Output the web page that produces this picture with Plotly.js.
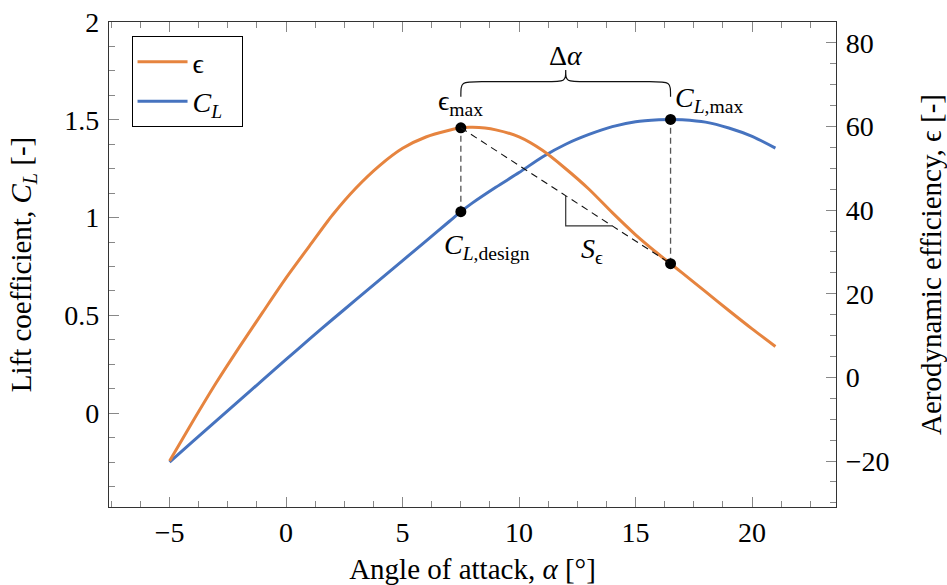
<!DOCTYPE html>
<html>
<head>
<meta charset="utf-8">
<script src="https://cdn.plot.ly/plotly-3.0.1.min.js"></script>
<style>html,body{margin:0;padding:0;background:#fff;}#chart{width:947px;height:585px;}</style>
</head>
<body>
<div id="chart"></div>
<script>
// Angle of attack (deg)
const alpha = [-5,-4,-3,-2,-1,0,1,2,3,4,5,6,7,7.5,8,9,10,11,12,13,14,15,16,16.5,17,18,19,20,21];
// Aerodynamic efficiency epsilon (right axis)
const eps = [-20,-10.5,-1.3,7.3,15.6,23.8,31.4,38.9,45.3,50.6,54.8,57.5,59.1,59.7,59.8,59.2,57.5,54.3,49.9,45.0,39.4,34.1,29.4,27.2,25.0,20.5,16.0,11.6,7.4];
// Lift coefficient CL (left axis)
const cl = [-0.25,-0.145,-0.04,0.065,0.17,0.275,0.378,0.48,0.58,0.68,0.78,0.88,0.98,1.03,1.075,1.155,1.23,1.31,1.375,1.425,1.465,1.49,1.5,1.502,1.5,1.488,1.458,1.415,1.355];
// Marked operating points
const alphaDesign = 7.5;   // epsilon max
const alphaStall = 16.5;   // CL max
const slopeTriangle = [12, 14];

const iD = alpha.indexOf(alphaDesign);
const iS = alpha.indexOf(alphaStall);
const epsMax = eps[iD], clDesign = cl[iD], clMax = cl[iS], epsStall = eps[iS];

const yRange = [-0.48, 2];
const y2Range = [-31, 85];
const toLeft = v => yRange[0] + (v - y2Range[0]) * (yRange[1] - yRange[0]) / (y2Range[1] - y2Range[0]);
const epsLine = a => epsMax + (a - alphaDesign) * (epsStall - epsMax) / (alphaStall - alphaDesign);

const ORANGE = '#E6843F', BLUE = '#4673BF';
const FONT = 'Liberation Serif';
const FS = 28, TFS = 29;

const traces = [
  {x: alpha, y: eps, yaxis: 'y2', type: 'scatter', mode: 'lines', name: 'ϵ',
   line: {color: ORANGE, width: 3, shape: 'spline', smoothing: 0.8}},
  {x: alpha, y: cl, yaxis: 'y', type: 'scatter', mode: 'lines', name: '<i>C</i><sub><i>L</i></sub>&nbsp;&nbsp;',
   line: {color: BLUE, width: 3, shape: 'spline', smoothing: 0.8}},
  {x: [alphaDesign, alphaStall], y: [clDesign, clMax], yaxis: 'y', type: 'scatter', mode: 'markers',
   marker: {color: 'black', size: 11}, showlegend: false, hoverinfo: 'skip'},
  {x: [alphaDesign, alphaStall], y: [epsMax, epsStall], yaxis: 'y2', type: 'scatter', mode: 'markers',
   marker: {color: 'black', size: 11}, showlegend: false, hoverinfo: 'skip'}
];

const mid = (alphaDesign + alphaStall) / 2;
const bY0 = 1.618, bY1 = 1.695, bY2 = 1.755;
const brace = `M ${alphaDesign},${bY0} C ${alphaDesign},${bY1} ${alphaDesign},${bY1} ${alphaDesign+0.9},${bY1} ` +
  `L ${mid-0.9},${bY1} C ${mid},${bY1} ${mid},${bY1} ${mid},${bY2} ` +
  `C ${mid},${bY1} ${mid},${bY1} ${mid+0.9},${bY1} L ${alphaStall-0.9},${bY1} ` +
  `C ${alphaStall},${bY1} ${alphaStall},${bY1} ${alphaStall},${bY0}`;

const shapes = [
  {type: 'line', xref: 'x', yref: 'y', x0: alphaDesign, x1: alphaDesign, y0: clDesign, y1: toLeft(epsMax),
   line: {color: '#555', width: 1.3, dash: '6px,4px'}, layer: 'below'},
  {type: 'line', xref: 'x', yref: 'y', x0: alphaStall, x1: alphaStall, y0: toLeft(epsStall), y1: clMax,
   line: {color: '#555', width: 1.3, dash: '6px,4px'}, layer: 'below'},
  {type: 'line', xref: 'x', yref: 'y2', x0: alphaDesign, x1: alphaStall, y0: epsMax, y1: epsStall,
   line: {color: '#111', width: 1.1, dash: '7px,5px'}},
  {type: 'path', xref: 'x', yref: 'y2',
   path: `M ${slopeTriangle[0]},${epsLine(slopeTriangle[0])} L ${slopeTriangle[0]},${epsLine(slopeTriangle[1])} L ${slopeTriangle[1]},${epsLine(slopeTriangle[1])}`,
   line: {color: '#333', width: 1.2}},
  {type: 'path', xref: 'x', yref: 'y', path: brace, line: {color: '#111', width: 1.2}}
];

const annFont = {family: FONT, size: FS, color: 'black'};
const annotations = [
  {x: alphaDesign, y: epsMax, xref: 'x', yref: 'y2', text: 'ϵ<sub>max</sub>', showarrow: false,
   xanchor: 'center', yanchor: 'middle', yshift: 25, font: annFont},
  {x: alphaStall, y: clMax, xref: 'x', yref: 'y', text: '<i>C</i><sub><i>L</i>,max</sub>', showarrow: false,
   xanchor: 'left', yanchor: 'middle', xshift: 2, yshift: 20, font: annFont},
  {x: alphaDesign, y: clDesign, xref: 'x', yref: 'y', text: '<i>C</i><sub><i>L</i>,design</sub>', showarrow: false,
   xanchor: 'left', yanchor: 'middle', xshift: -19, yshift: -35, font: annFont},
  {x: (slopeTriangle[0] + slopeTriangle[1]) / 2, y: epsLine(slopeTriangle[1]), xref: 'x', yref: 'y2',
   text: '<i>S</i><sub>ϵ</sub>', showarrow: false, xanchor: 'center', yanchor: 'middle', xshift: 3, yshift: -25, font: annFont},
  {x: mid, y: bY2, xref: 'x', yref: 'y', text: 'Δ<i>α</i>', showarrow: false,
   xanchor: 'center', yanchor: 'middle', yshift: 14, font: annFont}
];

const tickCol = '#888';
const lineCol = '#333';
const layout = {
  width: 947, height: 585,
  margin: {l: 109, r: 111, t: 22, b: 78, pad: 0},
  paper_bgcolor: 'white', plot_bgcolor: 'white',
  font: {family: FONT, size: FS, color: 'black'},
  showlegend: true,
  legend: {x: 0.031, y: 0.971, xanchor: 'left', yanchor: 'top', bgcolor: 'white',
           bordercolor: 'black', borderwidth: 1, font: {family: FONT, size: FS}, itemwidth: 50, tracegroupgap: 0},
  xaxis: {range: [-7.6, 23.6], tick0: 0, dtick: 5, ticks: 'inside', ticklen: 10, tickwidth: 1, tickcolor: tickCol,
          minor: {dtick: 1.25, ticks: 'inside', ticklen: 6, tickcolor: tickCol, tickwidth: 1, showgrid: false},
          showline: true, linecolor: lineCol, linewidth: 1.2, mirror: 'ticks', showgrid: false, zeroline: false,
          tickfont: {family: FONT, size: FS},
          title: {text: 'Angle of attack, <i>α</i> [°]', font: {family: FONT, size: TFS}, standoff: 18}},
  yaxis: {range: yRange, tick0: 0, dtick: 0.5, ticks: 'inside', ticklen: 10, tickwidth: 1, tickcolor: tickCol,
          minor: {dtick: 0.125, ticks: 'inside', ticklen: 6, tickcolor: tickCol, tickwidth: 1, showgrid: false},
          showline: true, linecolor: lineCol, linewidth: 1.2, mirror: false, showgrid: false, zeroline: false,
          tickfont: {family: FONT, size: FS}, ticklabelstandoff: 3,
          title: {text: 'Lift coefficient, <i>C</i><sub><i>L</i></sub> [-]', font: {family: FONT, size: TFS}, standoff: 24}},
  yaxis2: {range: y2Range, overlaying: 'y', side: 'right', tick0: 0, dtick: 20, ticks: 'inside', ticklen: 10, tickwidth: 1,
          tickcolor: tickCol,
          minor: {dtick: 5, ticks: 'inside', ticklen: 6, tickcolor: tickCol, tickwidth: 1, showgrid: false},
          showline: true, linecolor: lineCol, linewidth: 1.2, showgrid: false, zeroline: false,
          tickfont: {family: FONT, size: FS}, ticklabelstandoff: 3,
          title: {text: 'Aerodynamic efficiency, ϵ [-]', font: {family: FONT, size: TFS}, standoff: 36}},
  shapes: shapes,
  annotations: annotations
};

Plotly.newPlot('chart', traces, layout, {staticPlot: true, displayModeBar: false});
</script>
</body>
</html>
